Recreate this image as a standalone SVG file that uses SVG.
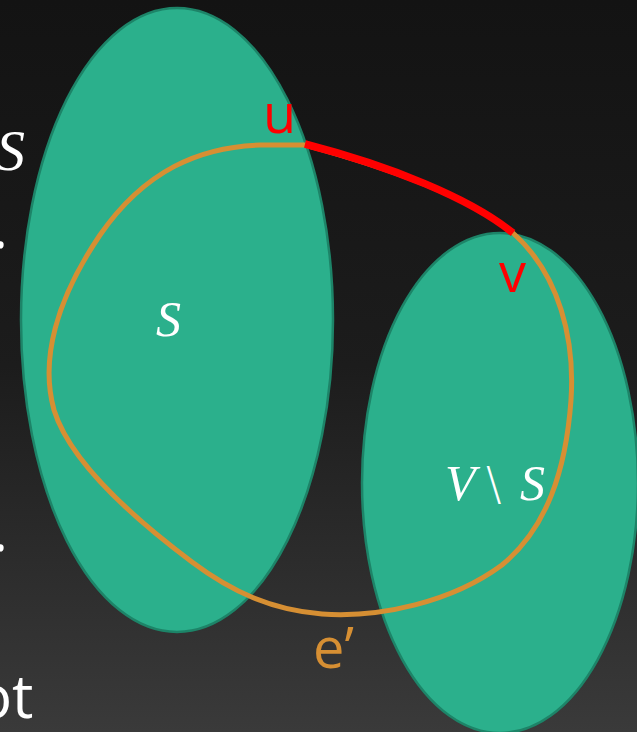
<svg xmlns="http://www.w3.org/2000/svg" width="637" height="732" viewBox="0 0 637 732">
<defs>
<linearGradient id="bg" x1="0" y1="0" x2="0" y2="1">
<stop offset="0" stop-color="#131313"/>
<stop offset="0.5" stop-color="#1c1c1c"/>
<stop offset="1" stop-color="#3a3a3a"/>
</linearGradient>
<style>
.set{fill:#2bb08c;stroke:#1d8468;stroke-width:2.5}
.math{font-family:"Liberation Serif","DejaVu Serif",serif;font-style:italic;fill:#ffffff}
.lbl{font-family:"Open Sans","Noto Sans",sans-serif}
.side{font-family:"Open Sans","Noto Sans",sans-serif;fill:#ffffff}
</style>
</defs>
<rect width="637" height="732" fill="url(#bg)"/>
<text class="math" x="-4" y="170" font-size="58">S</text>
<text class="side" x="-7" y="248" font-size="56">.</text>
<text class="side" x="-7" y="551" font-size="56">.</text>
<text class="side" x="-24" y="718" font-size="60">ot</text>
<g id="setS">
<ellipse class="set" cx="177" cy="320" rx="156" ry="312"/>
<text class="math" x="156" y="336" font-size="50">S</text>
</g>
<g id="setVS">
<ellipse class="set" cx="500" cy="483" rx="138" ry="250"/>
<text class="math" font-size="50" y="500"><tspan x="445">V</tspan><tspan x="486" font-style="normal" font-family="'DejaVu Sans Light','DejaVu Sans',sans-serif" font-size="46">\</tspan><tspan x="520" font-style="italic">S</tspan></text>
</g>
<g id="connectors">
<path id="cycle" d="M 305,145 C 390,168 470,198 513,233 C 560,275 575,340 571,400 C 566,470 547,528 502,565 C 452,602 380,618 322,614 C 272,610 232,592 192,562 C 132,517 70,462 54,410 C 40,360 56,300 100,235 C 145,170 200,147 260,145 C 280,145 295,145 305,145 Z" fill="none" stroke="#d68f33" stroke-width="5"/>
<path id="edge-uv" d="M 305,144 C 390,166 470,198 513,233" fill="none" stroke="#ff0000" stroke-width="7.5"/>
</g>
<text class="lbl" x="263" y="133" font-size="54" fill="#ff0000">u</text>
<text class="lbl" x="499" y="292" font-size="54" fill="#ff0000">v</text>
<text class="lbl" x="313" y="668" font-size="56" fill="#d68f33">e’</text>
</svg>
